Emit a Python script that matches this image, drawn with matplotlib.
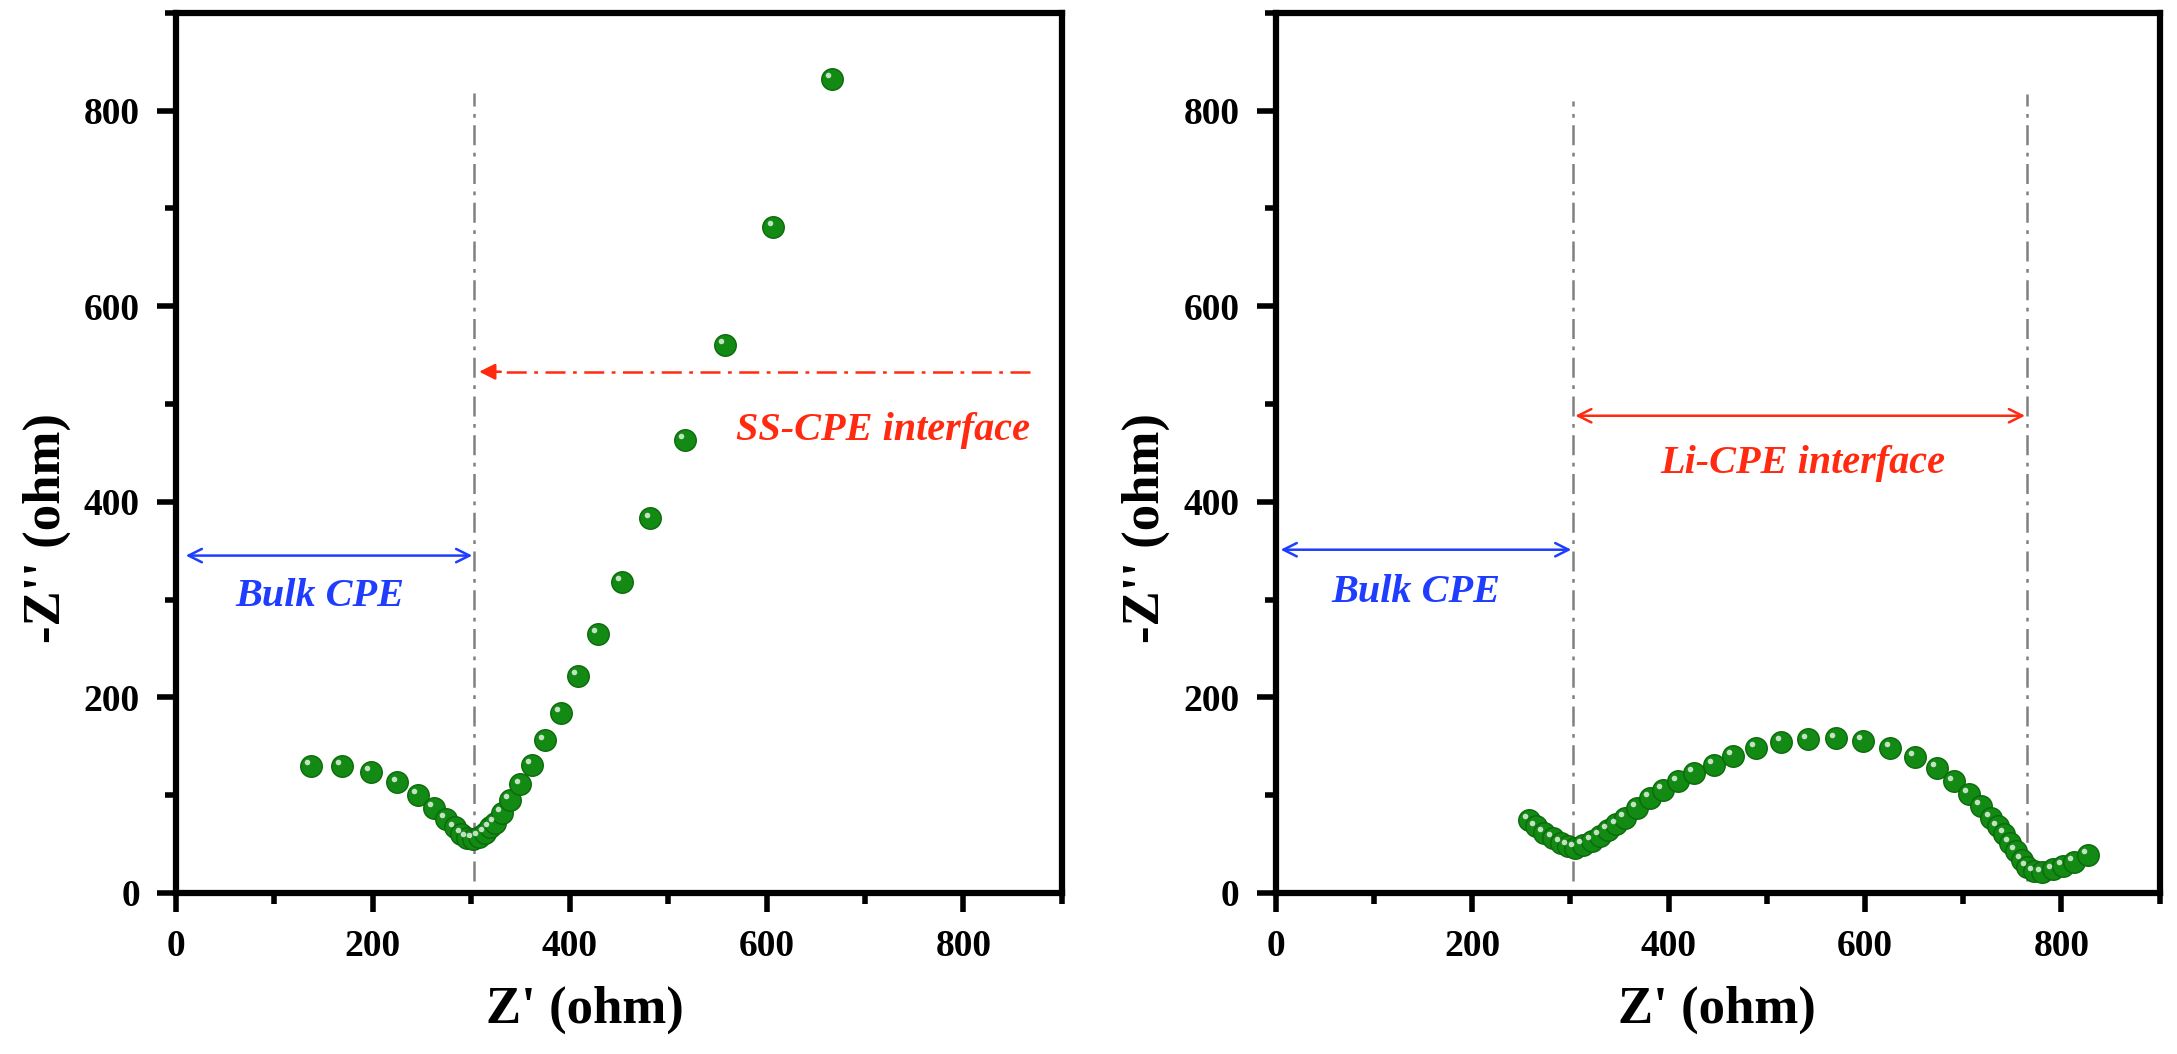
import matplotlib
matplotlib.use('Agg')
import matplotlib.pyplot as plt
from matplotlib.ticker import MultipleLocator
import matplotlib.transforms as mtransforms

# SS | CPE | SS cell
ss_z_re = [137, 169, 198, 225, 246, 262, 274, 283, 290, 296, 302, 308, 314, 319,
           324, 331, 339, 350, 362, 375, 391, 408, 429, 453, 482, 517, 558, 607, 666]
ss_z_im = [130, 130, 124, 113, 100, 87, 76, 67, 60, 56, 55, 57, 61, 67,
           72, 82, 95, 111, 131, 156, 184, 222, 265, 318, 383, 463, 560, 681, 832]

# Li | CPE | Li cell
li_z_re = [258, 265, 273, 282, 290, 298, 305, 313, 322, 330, 338, 347, 356, 368,
           381, 394, 410, 426, 446, 466, 489, 515, 542, 570, 598, 626, 651, 673,
           691, 706, 718, 728, 735, 742, 748, 754, 760, 765, 772, 780, 791, 802,
           813, 827]
li_z_im = [75, 68, 61, 56, 51, 48, 46, 49, 53, 58, 64, 70, 77, 87,
           97, 105, 114, 123, 131, 140, 148, 154, 157, 158, 155, 148, 139, 128,
           114, 101, 89, 77, 68, 60, 51, 43, 34, 27, 22, 21, 24, 28,
           32, 39]

ss_bulk_end = 303
li_bulk_end = 303
li_iface_end = 765

plt.rcParams['font.family'] = ['Liberation Serif', 'DejaVu Serif']
plt.rcParams['font.weight'] = 'bold'

fig = plt.figure(figsize=(21.77, 10.54), dpi=100)
ax1 = fig.add_axes([0.0808, 0.1528, 0.407, 0.835])
ax2 = fig.add_axes([0.586, 0.1528, 0.406, 0.835])

blue = '#1f3dff'
red = '#ff2a10'
green = '#138a13'


def balls(ax, x, y):
    ax.plot(x, y, 'o', ms=15.5, color=green, mec='#0b6a0b', mew=1.0, zorder=3)
    hl = mtransforms.offset_copy(ax.transData, fig=fig, x=-2.8, y=2.8, units='points')
    ax.plot(x, y, 'o', ms=4, color='white', mew=0, alpha=0.75, transform=hl, zorder=4)


def style(ax, xlab_pos, ylab_x):
    ax.set_xlim(0, 900)
    ax.set_ylim(0, 900)
    ax.xaxis.set_major_locator(MultipleLocator(200))
    ax.xaxis.set_minor_locator(MultipleLocator(100))
    ax.yaxis.set_major_locator(MultipleLocator(200))
    ax.yaxis.set_minor_locator(MultipleLocator(100))
    ax.tick_params(which='major', direction='out', length=14, width=4,
                   labelsize=27, pad=12, top=False, right=False)
    ax.tick_params(which='minor', direction='out', length=8, width=4,
                   top=False, right=False)
    for lab in ax.get_xticklabels() + ax.get_yticklabels():
        lab.set_fontweight('bold')
    for sp in ax.spines.values():
        sp.set_linewidth(4.5)
    ax.set_xlabel("Z' (ohm)", fontsize=38, fontweight='bold')
    ax.set_ylabel("-Z'' (ohm)", fontsize=38, fontweight='bold')
    ax.xaxis.set_label_coords(xlab_pos, -0.105)
    ax.yaxis.set_label_coords(ylab_x, 0.415)


def vline(ax, x, top):
    ax.plot([x, x], [12, top], color='#808080', lw=1.8, ls=(0, (8, 3, 1.5, 3)), zorder=2)


def arrow(ax, x0, x1, y, color, style_='<->'):
    ax.annotate('', xy=(x1, y), xytext=(x0, y),
                arrowprops=dict(arrowstyle=style_, color=color, lw=1.8,
                                mutation_scale=24, shrinkA=0, shrinkB=0))


# left panel
balls(ax1, ss_z_re, ss_z_im)
vline(ax1, ss_bulk_end, 818)
arrow(ax1, 10, ss_bulk_end - 2, 345, blue)
ax1.plot([868, 330], [533, 533], color=red, lw=1.8, ls=(0, (8, 3, 1.5, 3)))
arrow(ax1, 330, ss_bulk_end + 5, 533, red, style_='-|>')
ax1.text(146, 303, 'Bulk CPE', color=blue, fontsize=29, fontweight='bold',
         fontstyle='italic', ha='center', va='center')
ax1.text(868, 473, 'SS-CPE interface', color=red, fontsize=29, fontweight='bold',
         fontstyle='italic', ha='right', va='center')
style(ax1, 0.462, -0.118)

# right panel
balls(ax2, li_z_re, li_z_im)
vline(ax2, li_bulk_end, 810)
vline(ax2, li_iface_end, 817)
arrow(ax2, 5, li_bulk_end - 2, 351, blue)
arrow(ax2, li_bulk_end + 2, li_iface_end - 2, 488, red)
ax2.text(143, 307, 'Bulk CPE', color=blue, fontsize=29, fontweight='bold',
         fontstyle='italic', ha='center', va='center')
ax2.text(537, 439, 'Li-CPE interface', color=red, fontsize=29, fontweight='bold',
         fontstyle='italic', ha='center', va='center')
style(ax2, 0.499, -0.12)

fig.savefig('out.png', dpi=100)
